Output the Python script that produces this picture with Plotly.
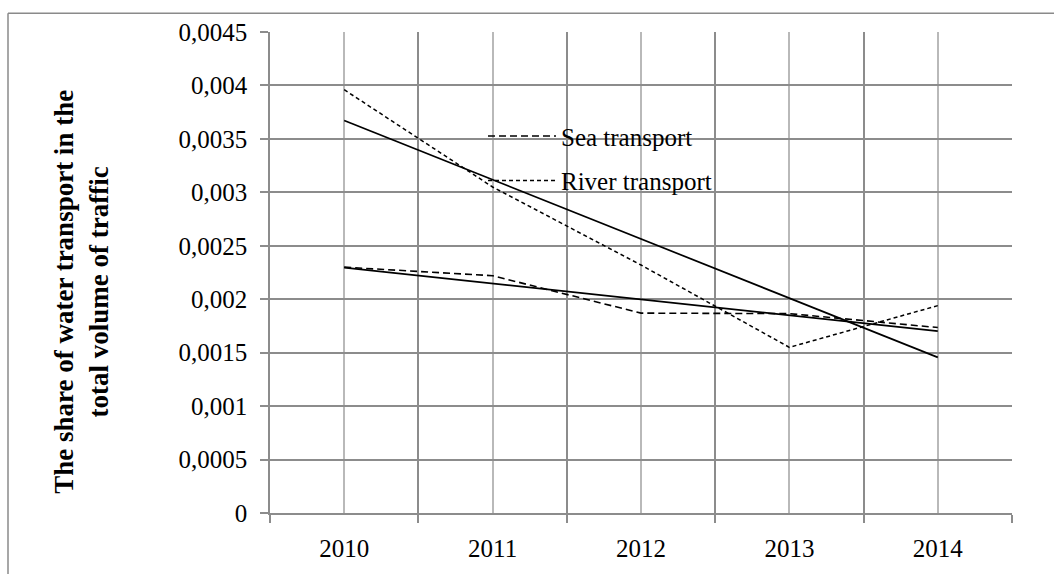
import numpy as np
import plotly.graph_objects as go

# Share of water transport in the total volume of traffic
years = [2010, 2011, 2012, 2013, 2014]
sea_share = [0.00230, 0.00222, 0.00187, 0.001865, 0.001735]
river_share = [0.00396, 0.00305, 0.00232, 0.00155, 0.00194]
y_ticks = [0, 0.0005, 0.001, 0.0015, 0.002, 0.0025, 0.003, 0.0035, 0.004, 0.0045]
y_tick_text = ["0", "0,0005", "0,001", "0,0015", "0,002", "0,0025",
               "0,003", "0,0035", "0,004", "0,0045"]
y_title = "The share of water transport in the<br>total volume of traffic"

W, H = 1054, 574
L, R, T, B = 270, 1012, 32, 517  # plot area in pixels

FONT = "Liberation Serif, Times New Roman, serif"
GRID_DARK = "#8c8c8c"
GRID_LIGHT = "#b9b9b9"


def linear_trend(x, y):
    k, b = np.polyfit(x, y, 1)
    return [k * xi + b for xi in x]


fig = go.Figure()

fig.add_trace(go.Scatter(
    x=years, y=sea_share, mode="lines", name="Sea transport",
    legendgroup="sea",
    line=dict(color="black", width=1.6, dash="7px,4px"),
))
fig.add_trace(go.Scatter(
    x=years, y=river_share, mode="lines", name="River transport",
    legendgroup="river",
    line=dict(color="black", width=1.5, dash="4px,3px"),
))
# Linear trend lines
fig.add_trace(go.Scatter(
    x=years, y=linear_trend(years, sea_share), mode="lines",
    showlegend=False, line=dict(color="black", width=1.7),
))
fig.add_trace(go.Scatter(
    x=years, y=linear_trend(years, river_share), mode="lines",
    showlegend=False, line=dict(color="black", width=1.7),
))

boundaries = [y - 0.5 for y in years] + [years[-1] + 0.5]


def px_x(p):
    return (p - L) / (R - L)


def px_y(p):
    return (B - p) / (B - T)


fig.update_layout(
    width=W, height=H,
    margin=dict(l=L, r=W - R, t=T, b=H - B),
    paper_bgcolor="white", plot_bgcolor="white",
    separators=",.",
    font=dict(family=FONT, size=25, color="black"),
    showlegend=True,
    legend=dict(
        x=px_x(483), y=px_y(114), xanchor="left", yanchor="top",
        bgcolor="rgba(0,0,0,0)", font=dict(size=25, family=FONT),
        tracegroupgap=9, itemwidth=68,
    ),
    xaxis=dict(
        range=[years[0] - 0.5, years[-1] + 0.5],
        tickmode="array", tickvals=years, ticktext=[str(y) for y in years],
        ticks="", showgrid=True, gridcolor=GRID_LIGHT, gridwidth=1.5,
        showline=True, linecolor=GRID_DARK, linewidth=1.5,
        zeroline=False,
        ticklabelstandoff=12,
        minor=dict(tickvals=boundaries, ticks="outside", ticklen=8,
                   tickcolor=GRID_DARK, tickwidth=1.5,
                   showgrid=True, gridcolor=GRID_DARK, gridwidth=1.5),
    ),
    yaxis=dict(
        range=[0, 0.0045], tickmode="array", tickvals=y_ticks,
        ticktext=y_tick_text,
        ticks="outside", ticklen=8, tickcolor=GRID_DARK, tickwidth=1.5,
        showgrid=True, gridcolor=GRID_DARK, gridwidth=1.5,
        showline=True, linecolor=GRID_DARK, linewidth=1.5,
        zeroline=False, ticklabelstandoff=8,
    ),
)

# Vertical axis title
fig.add_annotation(
    text=y_title, xref="paper", yref="paper",
    x=px_x(82), y=px_y(294), xanchor="center", yanchor="middle",
    textangle=-90, showarrow=False,
    font=dict(family=FONT, size=27, weight="bold", color="black"),
)

# Chart-area border (top and left edges)
fig.add_shape(type="line", xref="paper", yref="paper",
              x0=px_x(8), x1=px_x(W + 5), y0=px_y(13), y1=px_y(13),
              line=dict(color="#8a8a8a", width=1.5), layer="below")
fig.add_shape(type="line", xref="paper", yref="paper",
              x0=px_x(8), x1=px_x(8), y0=px_y(13), y1=px_y(H + 5),
              line=dict(color="#8a8a8a", width=1.5), layer="below")

fig.write_html("out.html")
